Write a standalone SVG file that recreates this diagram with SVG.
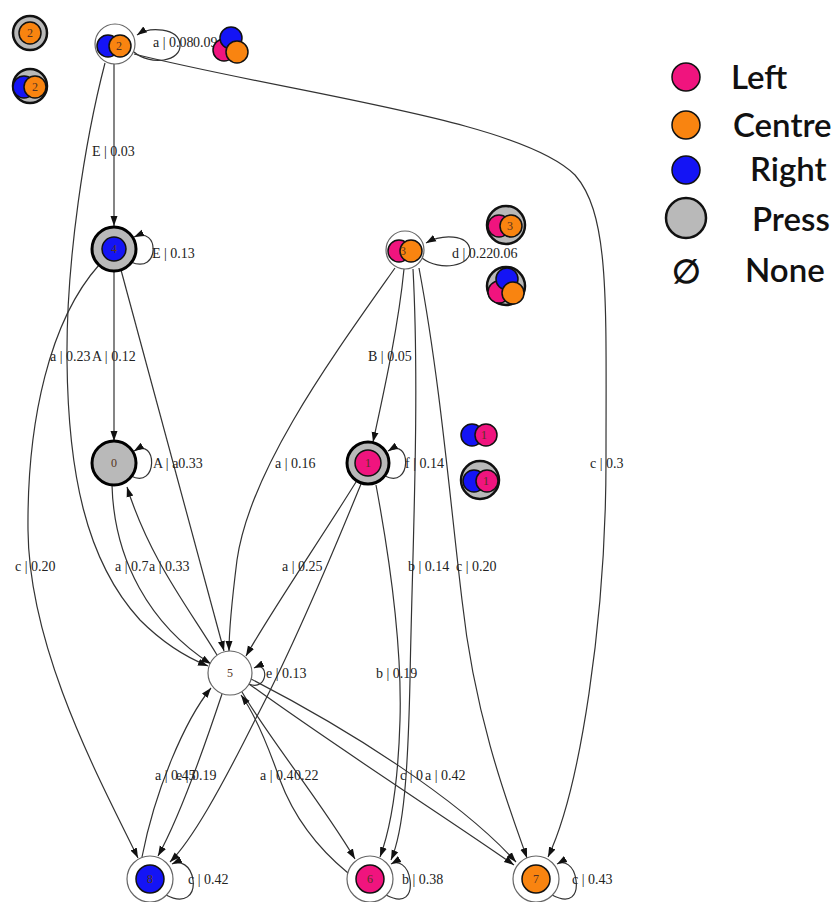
<svg xmlns="http://www.w3.org/2000/svg" width="840" height="902" viewBox="0 0 840 902">
<defs>
<style>
.e{fill:none;stroke:#333;stroke-width:1.2}
.lb{font-family:"Liberation Serif",serif;font-size:14px;fill:#222}
.nl{font-family:"Liberation Serif",serif;font-size:12px;fill:#532;text-anchor:middle}
.wo{fill:#fff;stroke:#666;stroke-width:1.2}
.pr{fill:#b9b9b9;stroke:#000;stroke-width:3}
.ri{fill:#b9b9b9;stroke:#111;stroke-width:2.5}
.pk{fill:#f0147e;stroke:#111;stroke-width:1.5}
.or{fill:#f98410;stroke:#111;stroke-width:1.5}
.bl{fill:#1414f5;stroke:#111;stroke-width:1.5}
.lg{font-family:Lato,"Open Sans",sans-serif;font-size:33px;fill:#111;font-weight:600}
</style>
<marker id="ah" viewBox="0 0 10 10" refX="10" refY="5" markerWidth="10" markerHeight="10" markerUnits="userSpaceOnUse" orient="auto"><path d="M0,1.5 L10,5 L0,8.5 z" fill="#111"/></marker>
</defs>
<rect width="840" height="902" fill="#fff"/>

<g id="connectors">
<path class="e" marker-end="url(#ah)" d="M114,64 L114,226"/>
<path class="e" marker-end="url(#ah)" d="M105,63 C85,140 66,260 67,360 C68,470 85,560 140,620 C165,645 188,658 208,666"/>
<path class="e" marker-end="url(#ah)" d="M134,54 C300,95 520,120 575,175 C610,215 606,300 606,460 C606,620 580,790 548,857"/>
<path class="e" marker-end="url(#ah)" d="M114,271 L114,441"/>
<path class="e" marker-end="url(#ah)" d="M99,265 C50,320 27,420 28,530 C29,650 100,780 138,858"/>
<path class="e" marker-end="url(#ah)" d="M121,270 L224,651"/>
<path class="e" marker-end="url(#ah)" d="M112,485 C114,560 150,625 211,664"/>
<path class="e" marker-end="url(#ah)" d="M217,655 C190,610 150,560 127,487"/>
<path class="e" marker-end="url(#ah)" d="M395,268 C330,360 250,470 237,560 C232,600 229,630 229,651"/>
<path class="e" marker-end="url(#ah)" d="M404,269 C398,330 382,400 373,442"/>
<path class="e" marker-end="url(#ah)" d="M413,269 C420,400 412,560 410,680 C408,770 404,830 391,860"/>
<path class="e" marker-end="url(#ah)" d="M419,268 C440,380 450,500 462,600 C475,720 510,810 527,858"/>
<path class="e" marker-end="url(#ah)" d="M356,482 C320,540 272,610 246,656"/>
<path class="e" marker-end="url(#ah)" d="M361,484 C330,560 292,650 255,720 C220,790 192,840 170,862"/>
<path class="e" marker-end="url(#ah)" d="M376,485 C390,560 402,650 400,720 C398,790 390,830 380,857"/>
<path class="e" marker-end="url(#ah)" d="M222,694 C200,760 178,820 158,856"/>
<path class="e" marker-end="url(#ah)" d="M142,857 C155,790 185,720 211,688"/>
<path class="e" marker-end="url(#ah)" d="M242,692 C270,740 320,800 355,859"/>
<path class="e" marker-end="url(#ah)" d="M348,873 C320,850 295,820 280,780 C266,740 252,710 241,695"/>
<path class="e" marker-end="url(#ah)" d="M251,679 C350,730 460,800 516,862"/>
<path class="e" marker-end="url(#ah)" d="M249,684 C340,750 450,820 514,865"/>
<path class="e" marker-end="url(#ah)" d="M134,52 C150,66 182,62 180,44 C178,28 150,26 137,35"/>
<path class="e" marker-end="url(#ah)" d="M131,262 C160,275 160,225 134,237"/>
<path class="e" marker-end="url(#ah)" d="M131,476 C158,490 158,436 134,451"/>
<path class="e" marker-end="url(#ah)" d="M422,258 C440,272 472,266 470,250 C468,234 442,234 426,243"/>
<path class="e" marker-end="url(#ah)" d="M385,476 C412,490 412,436 388,451"/>
<path class="e" marker-end="url(#ah)" d="M249,684 C268,692 270,660 254,668"/>
<path class="e" marker-end="url(#ah)" d="M166,895 C185,905 195,895 193,880 C191,865 180,860 172,864"/>
<path class="e" marker-end="url(#ah)" d="M386,895 C405,905 412,895 410,880 C408,865 398,860 391,864"/>
<path class="e" marker-end="url(#ah)" d="M552,895 C571,905 578,895 576,880 C574,865 564,860 557,864"/>
</g>

<g id="labels">
<text class="lb" x="153" y="47">a | 0.08</text>
<text class="lb" x="193" y="47">0.09</text>
<text class="lb" x="92" y="156">E | 0.03</text>
<text class="lb" x="152" y="258">E | 0.13</text>
<text class="lb" x="452" y="258">d | 0.22</text>
<text class="lb" x="493" y="258">0.06</text>
<text class="lb" x="50" y="361">a | 0.23</text>
<text class="lb" x="92" y="361">A | 0.12</text>
<text class="lb" x="368" y="361">B | 0.05</text>
<text class="lb" x="153" y="468">A | a0.33</text>
<text class="lb" x="275" y="468">a | 0.16</text>
<text class="lb" x="405" y="468">f | 0.14</text>
<text class="lb" x="590" y="468">c | 0.3</text>
<text class="lb" x="15" y="571">c | 0.20</text>
<text class="lb" x="115" y="571">a | 0.7</text>
<text class="lb" x="149" y="571">a | 0.33</text>
<text class="lb" x="282" y="571">a | 0.25</text>
<text class="lb" x="408" y="571">b | 0.14</text>
<text class="lb" x="456" y="571">c | 0.20</text>
<text class="lb" x="266" y="678">e | 0.13</text>
<text class="lb" x="376" y="678">b | 0.19</text>
<text class="lb" x="155" y="780">a | 0.45</text>
<text class="lb" x="176" y="780">e | 0.19</text>
<text class="lb" x="260" y="780">a | 0.4</text>
<text class="lb" x="294" y="780">0.22</text>
<text class="lb" x="400" y="780">c | 0</text>
<text class="lb" x="425" y="780">a | 0.42</text>
<text class="lb" x="188" y="884">c | 0.42</text>
<text class="lb" x="402" y="884">b | 0.38</text>
<text class="lb" x="572" y="884">c | 0.43</text>
</g>

<g id="icon-2a"><circle class="ri" cx="30" cy="33" r="17"/><circle class="or" cx="30" cy="33" r="11"/><text class="nl" x="30" y="37">2</text></g>
<g id="icon-2b"><circle class="ri" cx="30" cy="86" r="17"/><circle class="bl" cx="24" cy="87" r="11"/><circle class="or" cx="35" cy="87" r="11"/><text class="nl" x="35" y="91">2</text></g>
<g id="icon-2c"><circle class="pk" cx="224" cy="50" r="11"/><circle class="bl" cx="231" cy="38" r="11"/><circle class="or" cx="237" cy="52" r="11"/></g>

<g id="node-2"><circle class="wo" cx="115" cy="44" r="20"/><circle class="bl" cx="108" cy="46" r="11"/><circle class="or" cx="120" cy="46" r="11"/><text class="nl" x="119" y="50">2</text></g>
<g id="node-4"><circle class="pr" cx="114" cy="249" r="22"/><circle class="bl" cx="114" cy="249" r="12"/><text class="nl" x="114" y="253" fill="#226">4</text></g>
<g id="node-3"><circle class="wo" cx="405" cy="250" r="19"/><circle class="pk" cx="399" cy="251" r="11"/><circle class="or" cx="411" cy="251" r="11"/><text class="nl" x="403" y="255">3</text></g>
<g id="icon-3a"><circle class="ri" cx="506" cy="225" r="19"/><circle class="pk" cx="499" cy="226" r="11"/><circle class="or" cx="511" cy="226" r="11"/><text class="nl" x="510" y="230">3</text></g>
<g id="icon-3b"><circle class="ri" cx="506" cy="286" r="19"/><circle class="pk" cx="499" cy="292" r="11"/><circle class="bl" cx="507" cy="279" r="11"/><circle class="or" cx="513" cy="293" r="11"/></g>
<g id="node-0"><circle class="pr" cx="114" cy="463" r="22"/><text class="nl" x="114" y="467">0</text></g>
<g id="node-1"><circle class="pr" cx="368" cy="463" r="21"/><circle class="pk" cx="368" cy="463" r="13"/><text class="nl" x="368" y="467">1</text></g>
<g id="icon-1a"><circle class="bl" cx="472" cy="435" r="11"/><circle class="pk" cx="486" cy="435" r="11"/><text class="nl" x="484" y="439">1</text></g>
<g id="icon-1b"><circle class="ri" cx="480" cy="480" r="19"/><circle class="bl" cx="474" cy="481" r="11"/><circle class="pk" cx="487" cy="481" r="11"/><text class="nl" x="486" y="485">1</text></g>
<g id="node-5"><circle class="wo" cx="230" cy="673" r="22" stroke="#333"/><text class="nl" x="230" y="677" fill="#111">5</text></g>
<g id="node-8"><circle class="wo" cx="150" cy="879" r="23"/><circle class="bl" cx="150" cy="879" r="14" stroke-width="2"/><text class="nl" x="150" y="883" fill="#113">8</text></g>
<g id="node-6"><circle class="wo" cx="370" cy="879" r="23"/><circle class="pk" cx="370" cy="879" r="14" stroke-width="2"/><text class="nl" x="370" y="883">6</text></g>
<g id="node-7"><circle class="wo" cx="536" cy="879" r="23"/><circle class="or" cx="536" cy="879" r="14" stroke-width="2"/><text class="nl" x="536" y="883">7</text></g>

<g id="legend">
<circle class="pk" cx="686" cy="77" r="14" stroke-width="2.5"/>
<text class="lg" x="731" y="89">Left</text>
<circle class="or" cx="686" cy="125" r="14" stroke-width="2.5"/>
<text class="lg" x="733" y="137">Centre</text>
<circle class="bl" cx="686" cy="170" r="14" stroke-width="2.5"/>
<text class="lg" x="750" y="181">Right</text>
<circle class="ri" cx="686" cy="218" r="20" stroke-width="2.5"/>
<text class="lg" x="752" y="231">Press</text>
<text class="lg" x="686" y="283" text-anchor="middle" font-size="26">∅</text>
<text class="lg" x="745" y="282">None</text>
</g>
</svg>
